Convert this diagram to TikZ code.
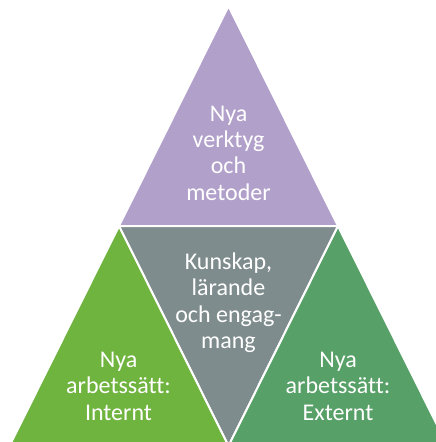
\documentclass[tikz,border=0pt]{standalone}
\usepackage{fontspec}
\setmainfont{Carlito}[Ligatures=NoCommon]
\definecolor{toolfill}{RGB}{177,160,202}
\definecolor{corefill}{RGB}{127,140,141}
\definecolor{intfill}{RGB}{112,180,64}
\definecolor{extfill}{RGB}{87,160,103}
\begin{document}
\begin{tikzpicture}[x=1pt,y=-1pt,
  piece/.style={draw=white,line width=2pt,line join=miter},
  lbl/.style={text=white,font=\fontsize{24}{26.3}\selectfont,align=center,inner sep=0pt,anchor=base}]
\useasboundingbox (0,0) rectangle (436,442);
% corners of the large triangle and midpoints of its sides
\coordinate (apex) at (228.5,6);
\coordinate (ml) at (119,226);
\coordinate (mr) at (338,226);
\coordinate (bl) at (9.5,446);
\coordinate (bm) at (228.5,446);
\coordinate (br) at (447.5,446);
\begin{scope}
  \clip (0,0) rectangle (436,442);
  \filldraw[piece,fill=toolfill] (apex) -- (ml) -- (mr) -- cycle;
  \filldraw[piece,fill=corefill] (ml) -- (mr) -- (bm) -- cycle;
  \filldraw[piece,fill=intfill] (ml) -- (bm) -- (bl) -- cycle;
  \filldraw[piece,fill=extfill] (mr) -- (br) -- (bm) -- cycle;
\end{scope}
% labels (anchored at the baseline of their last line)
\node[lbl] (tools) at (228.5,200) {Nya\\verktyg\\och\\metoder};
\node[lbl] (core) at (228.5,348.5) {Kunskap,\\lärande\\och engag-\\mang};
\node[lbl] (internal) at (118.5,420) {Nya\\arbetssätt:\\Internt};
\node[lbl] (external) at (338,420) {Nya\\arbetssätt:\\Externt};
\end{tikzpicture}
\end{document}
